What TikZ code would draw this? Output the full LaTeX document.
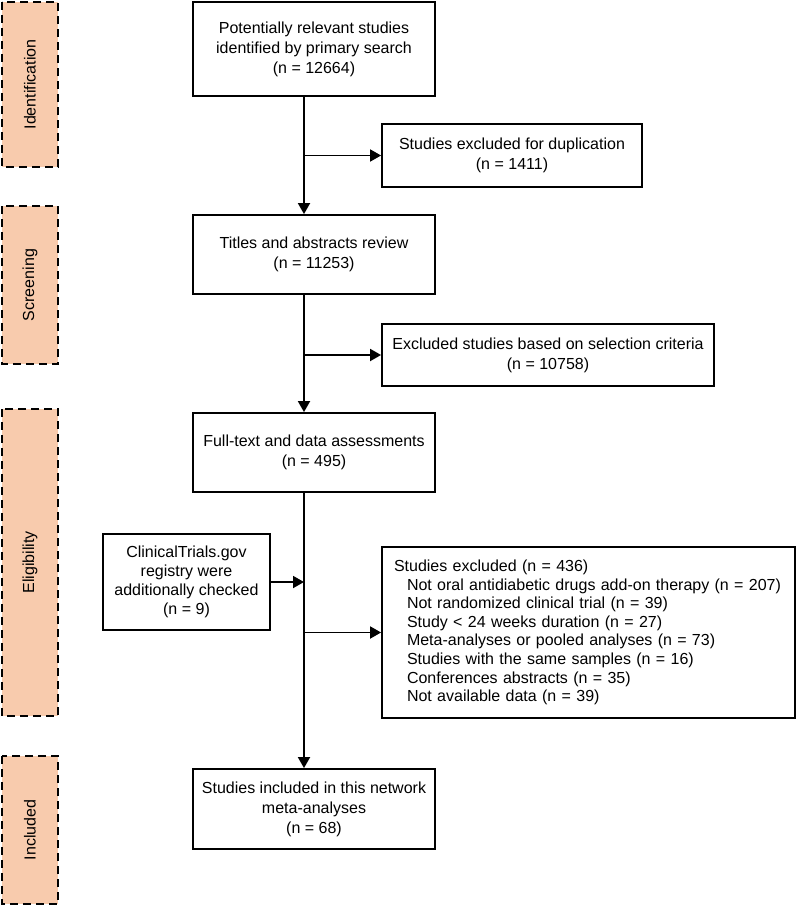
\documentclass[tikz,border=0pt]{standalone}
\usepackage{fontspec}
\setmainfont{Liberation Sans}
\usetikzlibrary{shapes,positioning,arrows.meta,calc}
\definecolor{stagefill}{HTML}{F8CBAD}
\tikzset{
	box/.style={draw, line width=1.8pt, align=center, inner sep=0pt, font=\fontsize{16}{20}\selectfont},
	stage/.style={draw, rotate=90, dash pattern=on 8pt off 5pt, line width=2pt, fill=stagefill, inner sep=0pt, minimum height=56pt, font=\fontsize{16}{19}\selectfont},
	flow/.style={line width=1.8pt, -{Triangle[length=11pt,width=12pt]}},
}

\begin{document}
\begin{tikzpicture}[x=1pt,y=-1pt]
				\useasboundingbox (0,0) rectangle (797,907);
				% stages
				\node[stage, minimum width=165pt](ident) at (30,84.5) {Identification};
				\node[stage, minimum width=158pt](screen) at (30,285) {Screening};
				\node[stage, minimum width=307pt](elig) at (30,562.5) {Eligibility};
				\node[stage, minimum width=148pt](incl) at (30,830) {Included};
				% main column
				\node[box, minimum width=242pt, minimum height=94pt](search) at (314,49) {Potentially relevant studies\\identified by primary search\\(n = 12664)};
				\node[box, minimum width=242pt, minimum height=79pt](titles) at (314,254.5) {Titles and abstracts review\\(n = 11253)};
				\node[box, minimum width=242pt, minimum height=79pt](fulltext) at (314,452.5) {Full-text and data assessments\\(n = 495)};
				\node[box, minimum width=242pt, minimum height=80pt](included) at (314,809) {Studies included in this network\\meta-analyses\\(n = 68)};
				% side boxes
				\node[box, minimum width=260pt, minimum height=63pt](dup) at (512,155.5) {Studies excluded for duplication\\(n = 1411)};
				\node[box, minimum width=332pt, minimum height=62pt](criteria) at (548,355) {Excluded studies based on selection criteria\\(n = 10758)};
				\node[box, minimum width=167pt, minimum height=96pt, font=\fontsize{16}{19}\selectfont](trials) at (186.5,582) {ClinicalTrials.gov\\registry were\\additionally checked\\(n = 9)};
				\node[box, align=left, text width=389pt, inner xsep=12pt, minimum height=171pt, font=\fontsize{16}{18.6}\selectfont](excluded) at (588.5,632.5) {Studies excluded (n = 436)\\
					\hspace*{13pt}Not oral antidiabetic drugs add-on therapy (n = 207)\\
					\hspace*{13pt}Not randomized clinical trial (n = 39)\\
					\hspace*{13pt}Study < 24 weeks duration (n = 27)\\
					\hspace*{13pt}Meta-analyses or pooled analyses (n = 73)\\
					\hspace*{13pt}Studies with the same samples (n = 16)\\
					\hspace*{13pt}Conferences abstracts (n = 35)\\
					\hspace*{13pt}Not available data (n = 39)};
				
				\coordinate(trunk) at (304,0);
				\draw[flow] (search.south -| trunk) -- (titles.north -| trunk);
				\draw[flow] (titles.south -| trunk) -- (fulltext.north -| trunk);
				\draw[flow] (fulltext.south -| trunk) -- (included.north -| trunk);
				
				\draw[flow] (trunk |- dup.west) -- (dup.west);
				\draw[flow] (trunk |- criteria.west) -- (criteria.west);
				\draw[flow] (trials.east) -- (trials.east -| trunk);
				\draw[flow] (trunk |- excluded.west) -- (excluded.west);
			\end{tikzpicture}
\end{document}
